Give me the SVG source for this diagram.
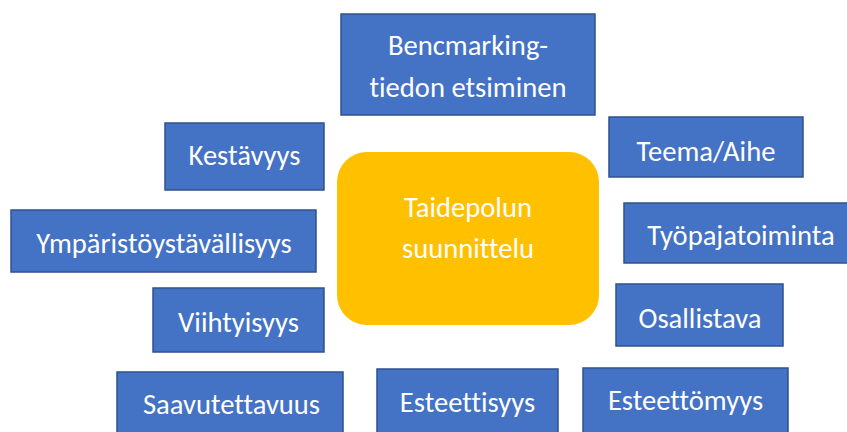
<svg xmlns="http://www.w3.org/2000/svg" width="847" height="432" viewBox="0 0 847 432">
<style>
.box{fill:#4472C4;stroke:#2F528F;stroke-width:1.5}
.hub{fill:#FFC000}
text{font-family:Carlito,"Open Sans","Noto Sans",sans-serif;font-size:28.6px;fill:#FFFFFF;text-anchor:middle;font-variant-ligatures:none;font-feature-settings:"liga" 0,"clig" 0}
</style>
<rect width="847" height="432" fill="#FFFFFF"/>
<g id="connectors"/>
<g id="hub">
<rect class="hub" x="337" y="152" width="262" height="173" rx="30"/>
<text x="468" y="217">Taidepolun</text>
<text x="468" y="258">suunnittelu</text>
</g>
<g id="bencmarking">
<rect class="box" x="341" y="14" width="254" height="101"/>
<text x="468" y="55">Bencmarking-</text>
<text x="468" y="97">tiedon etsiminen</text>
</g>
<g id="kestavyys">
<rect class="box" x="165" y="123" width="159" height="67"/>
<text x="244.5" y="165">Kestävyys</text>
</g>
<g id="ymparistoystavallisyys">
<rect class="box" x="11" y="210" width="305" height="62"/>
<text x="164" y="253">Ympäristöystävällisyys</text>
</g>
<g id="viihtyisyys">
<rect class="box" x="153" y="288" width="171" height="64"/>
<text x="238.5" y="332">Viihtyisyys</text>
</g>
<g id="teema">
<rect class="box" x="609" y="117" width="194" height="60"/>
<text x="706" y="161">Teema/Aihe</text>
</g>
<g id="tyopajatoiminta">
<rect class="box" x="624" y="203" width="230" height="60"/>
<text x="741" y="245">Työpajatoiminta</text>
</g>
<g id="osallistava">
<rect class="box" x="616" y="284" width="167" height="62"/>
<text x="700" y="328">Osallistava</text>
</g>
<g id="saavutettavuus">
<rect class="box" x="117" y="372" width="226" height="70"/>
<text x="231.5" y="414">Saavutettavuus</text>
</g>
<g id="esteettisyys">
<rect class="box" x="377" y="369" width="181" height="70"/>
<text x="467.5" y="412">Esteettisyys</text>
</g>
<g id="esteettomyys">
<rect class="box" x="583" y="368" width="205" height="70"/>
<text x="685.5" y="410">Esteettömyys</text>
</g>
</svg>
